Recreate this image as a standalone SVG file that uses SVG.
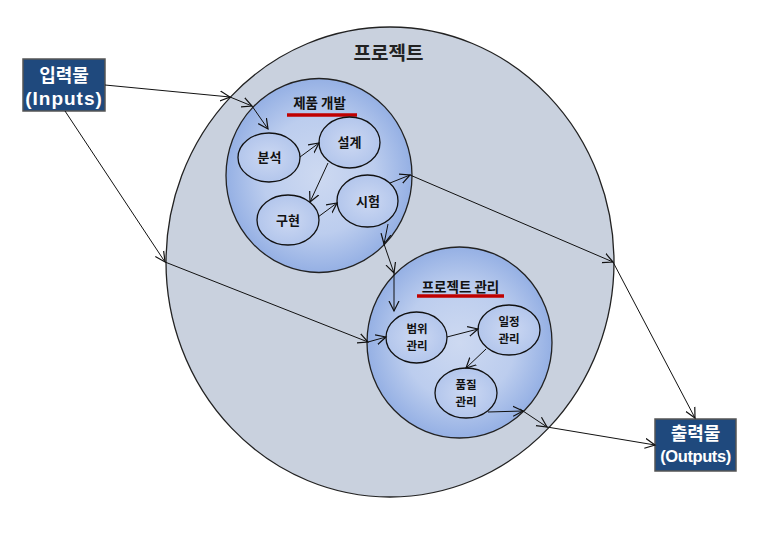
<svg xmlns="http://www.w3.org/2000/svg" width="762" height="537" viewBox="0 0 762 537">
<defs>
<radialGradient id="blueGrad" cx="50%" cy="50%" r="50%">
<stop offset="0%" stop-color="#cdd9f1"/>
<stop offset="60%" stop-color="#bccdee"/>
<stop offset="100%" stop-color="#95b0e4"/>
</radialGradient>
<radialGradient id="nodeGrad" cx="50%" cy="50%" r="50%">
<stop offset="0%" stop-color="#ccd8f2"/>
<stop offset="100%" stop-color="#b3c6ec"/>
</radialGradient>
<marker id="arr" markerUnits="userSpaceOnUse" markerWidth="12" markerHeight="12" refX="10" refY="5" orient="auto" viewBox="0 0 12 10">
<path d="M0,0 L10,5 L0,10" fill="none" stroke="#111" stroke-width="1.2"/>
</marker>
</defs>
<style>
.big{fill:#c9d1de;stroke:#222;stroke-width:1.3}
.inner{fill:url(#blueGrad);stroke:#222;stroke-width:1.3}
.node{fill:url(#nodeGrad);stroke:#111;stroke-width:1.3}
.lbl{font-family:"Noto Sans CJK KR","Liberation Sans",sans-serif;font-weight:bold;font-size:13px;fill:#111;text-anchor:middle}
.lbl2{font-family:"Noto Sans CJK KR","Liberation Sans",sans-serif;font-weight:bold;font-size:11.5px;fill:#111;text-anchor:middle}
.title{font-family:"Noto Sans CJK KR","Liberation Sans",sans-serif;font-weight:bold;font-size:13.5px;fill:#111;text-anchor:middle}
.bigtitle{font-family:"Noto Sans CJK KR","Liberation Sans",sans-serif;font-weight:bold;font-size:19px;fill:#222;text-anchor:middle}
.box{fill:#1f497d;stroke:#555;stroke-width:1.5}
.boxt{font-family:"Noto Sans CJK KR","Liberation Sans",sans-serif;font-weight:bold;font-size:18px;fill:#fff;text-anchor:middle}
.boxe{font-family:"Liberation Sans",sans-serif;font-weight:bold;fill:#fff;text-anchor:middle}
.red{stroke:#c00000;stroke-width:3.5}
.conn{fill:none;stroke:#111;stroke-width:1;marker-end:url(#arr)}
</style>

<g id="project">
<ellipse class="big" cx="390" cy="262" rx="224" ry="235"/>
<text class="bigtitle" x="388.500" y="60">프로젝트</text>
</g>

<g id="product-dev">
<ellipse class="inner" cx="319" cy="175.500" rx="93" ry="97"/>
<text class="title" x="319.500" y="108">제품 개발</text>
<line class="red" x1="287" y1="115" x2="357" y2="115"/>
</g>

<g id="project-mgmt">
<ellipse class="inner" cx="459.500" cy="342.500" rx="92.500" ry="95.500"/>
<text class="title" x="460.500" y="292">프로젝트 관리</text>
<line class="red" x1="417" y1="296" x2="504" y2="296"/>
</g>

<g id="analysis">
<ellipse class="node" cx="269" cy="157.500" rx="31" ry="24.500"/>
<text class="lbl" x="269.500" y="162">분석</text>
</g>
<g id="design">
<ellipse class="node" cx="349.500" cy="142.500" rx="30.500" ry="25.500"/>
<text class="lbl" x="349.500" y="147">설계</text>
</g>
<g id="implement">
<ellipse class="node" cx="288" cy="220" rx="31" ry="25"/>
<text class="lbl" x="288" y="224.500">구현</text>
</g>
<g id="test">
<ellipse class="node" cx="367.500" cy="201" rx="30.500" ry="26"/>
<text class="lbl" x="368" y="205.500">시험</text>
</g>

<g id="scope">
<ellipse class="node" cx="416.500" cy="337.500" rx="30.500" ry="25.500"/>
<text class="lbl2" x="417" y="333">범위</text>
<text class="lbl2" x="417" y="350">관리</text>
</g>
<g id="schedule">
<ellipse class="node" cx="509" cy="330" rx="31" ry="25"/>
<text class="lbl2" x="509" y="325.500">일정</text>
<text class="lbl2" x="509" y="342.500">관리</text>
</g>
<g id="quality">
<ellipse class="node" cx="466" cy="393" rx="31" ry="25"/>
<text class="lbl2" x="466" y="388.500">품질</text>
<text class="lbl2" x="466" y="405.500">관리</text>
</g>

<g id="inputs">
<rect class="box" x="23" y="59" width="82" height="52"/>
<text class="boxt" x="64" y="82">입력물</text>
<text class="boxe" x="64" y="105" font-size="19" letter-spacing="1">(Inputs)</text>
</g>

<g id="outputs">
<rect class="box" x="655" y="419" width="81" height="52"/>
<text class="boxt" x="695.500" y="440">출력물</text>
<text class="boxe" x="695.500" y="462" font-size="16.500" letter-spacing="-0.4">(Outputs)</text>
</g>

<g id="connectors">
<path class="conn" d="M105,85 L230,97"/>
<path class="conn" d="M230,97 L252,106"/>
<path class="conn" d="M252,106 L268,129"/>
<path class="conn" d="M65,111 L165,262"/>
<path class="conn" d="M165,262 L368,342"/>
<path class="conn" d="M368,342 L386,337"/>
<path class="conn" d="M300,157 L319,143"/>
<path class="conn" d="M328,163 L310,202"/>
<path class="conn" d="M318,217 L337,203"/>
<path class="conn" d="M390,183 L410,175"/>
<path class="conn" d="M410,175 L613,262"/>
<path class="conn" d="M613,262 L695,418"/>
<path class="conn" d="M388,224 L384,244"/>
<path class="conn" d="M384,244 L394,273"/>
<path class="conn" d="M394,273 L394,311"/>
<path class="conn" d="M447,337 L478,329"/>
<path class="conn" d="M486,349 L466,368"/>
<path class="conn" d="M488,412 L523,411"/>
<path class="conn" d="M520,409 L547,427"/>
<path class="conn" d="M547,427 L655,445"/>
</g>
</svg>
